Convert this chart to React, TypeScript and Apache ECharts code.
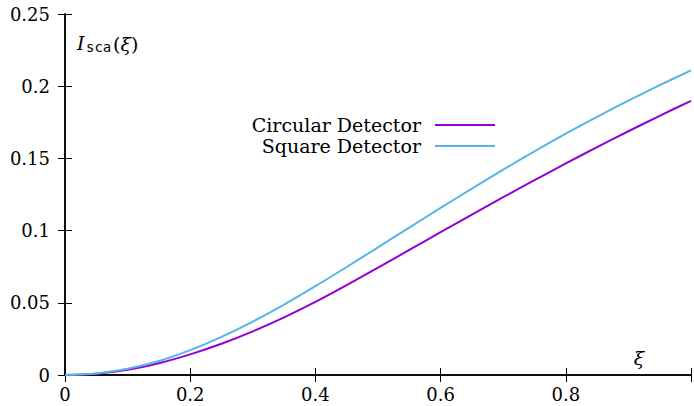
import React, { useEffect, useRef } from "react";
import * as echarts from "echarts";

const xi = [0, 0.05, 0.1, 0.15, 0.2, 0.25, 0.3, 0.35, 0.4, 0.45, 0.5, 0.55, 0.6, 0.65, 0.7, 0.75, 0.8, 0.85, 0.9, 0.95, 1];
const circular = [0, 0.0009, 0.0036, 0.0082, 0.0143, 0.0216, 0.0302, 0.0399, 0.0506, 0.0622, 0.0743, 0.0866, 0.0989, 0.1111, 0.1231, 0.1349, 0.1465, 0.1578, 0.1688, 0.1795, 0.1899];
const square = [0, 0.0011, 0.0043, 0.0097, 0.0172, 0.0264, 0.037, 0.0488, 0.0615, 0.0748, 0.0884, 0.1021, 0.1157, 0.1291, 0.1422, 0.1549, 0.1671, 0.1788, 0.19, 0.2007, 0.2109];
const seriesNames = ["Circular Detector", "Square Detector"];
const xTickLabels: Record<string, string> = { "0": "0", "0.2": "0.2", "0.4": "0.4", "0.6": "0.6", "0.8": "0.8" };
const yTickLabels: Record<string, string> = { "0": "0", "0.05": "0.05", "0.1": "0.1", "0.15": "0.15", "0.2": "0.2", "0.25": "0.25" };

const FONT = "DejaVu Serif";
const COLORS = ["#9400D3", "#56B4E9"];

export default function App() {
  const ref = useRef<HTMLDivElement>(null);
  useEffect(() => {
    if (!ref.current) return;
    const chart = echarts.init(ref.current, null, { renderer: "svg" });
    const axisLine = { show: true, lineStyle: { color: "#000", width: 1.5 } };
    const tick = { show: true, inside: true, length: 7, lineStyle: { color: "#000", width: 1 } };
    const lbl = { color: "#000", fontFamily: FONT, fontSize: 18 };
    chart.setOption({
      animation: false,
      backgroundColor: "#fff",
      grid: { left: 65, top: 14, width: 630, height: 361, containLabel: false },
      xAxis: [
        {
          type: "value", min: 0, max: 1, interval: 0.2, position: "bottom",
          axisLine, axisTick: tick, splitLine: { show: false },
          axisLabel: { ...lbl, margin: 10, formatter: (v: number) => xTickLabels[String(+v.toFixed(2))] ?? "" },
        },
        {
          type: "value", min: 0, max: 1, interval: 0.2, position: "top",
          axisLine, axisTick: tick, splitLine: { show: false }, axisLabel: { show: false },
        },
      ],
      yAxis: [
        {
          type: "value", min: 0, max: 0.25, interval: 0.05, position: "left",
          axisLine, axisTick: tick, splitLine: { show: false },
          axisLabel: { ...lbl, margin: 15, formatter: (v: number) => yTickLabels[String(+v.toFixed(2))] ?? "" },
        },
        {
          type: "value", min: 0, max: 0.25, interval: 0.05, position: "right",
          axisLine, axisTick: tick, splitLine: { show: false }, axisLabel: { show: false },
        },
      ],
      series: [
        {
          name: seriesNames[0], type: "line", showSymbol: false, smooth: 0.3,
          data: xi.map((x, i) => [x, circular[i]]),
          lineStyle: { color: COLORS[0], width: 2 }, itemStyle: { color: COLORS[0] },
        },
        {
          name: seriesNames[1], type: "line", showSymbol: false, smooth: 0.3,
          data: xi.map((x, i) => [x, square[i]]),
          lineStyle: { color: COLORS[1], width: 2 }, itemStyle: { color: COLORS[1] },
        },
      ],
      graphic: [
        { type: "text", x: 77, y: 43, style: { text: "I", fontFamily: FONT, fontSize: 19, fontStyle: "italic", fill: "#000", textVerticalAlign: "middle" } },
        { type: "text", x: 86, y: 47, style: { text: "sca", fontFamily: "DejaVu Sans Mono", fontSize: 14, fill: "#000", textVerticalAlign: "middle" } },
        {
          type: "text", x: 113, y: 44,
          style: {
            text: "{n|(}{i|ξ}{n|)}", fill: "#000", textVerticalAlign: "middle",
            rich: {
              n: { fontFamily: FONT, fontSize: 19, fill: "#000" },
              i: { fontFamily: FONT, fontSize: 19, fontStyle: "italic", fill: "#000" },
            },
          },
        },
        { type: "text", x: 639, y: 358, style: { text: "ξ", fontFamily: FONT, fontSize: 19, fontStyle: "italic", fill: "#000", textAlign: "center", textVerticalAlign: "middle" } },
        { type: "text", x: 421, y: 125, style: { text: seriesNames[0], fontFamily: FONT, fontSize: 19, fill: "#000", textAlign: "right", textVerticalAlign: "middle" } },
        { type: "line", shape: { x1: 435, y1: 125, x2: 495, y2: 125 }, style: { stroke: COLORS[0], lineWidth: 2 } },
        { type: "text", x: 421, y: 146, style: { text: seriesNames[1], fontFamily: FONT, fontSize: 19, fill: "#000", textAlign: "right", textVerticalAlign: "middle" } },
        { type: "line", shape: { x1: 435, y1: 146, x2: 495, y2: 146 }, style: { stroke: COLORS[1], lineWidth: 2 } },
      ],
    });
    return () => chart.dispose();
  }, []);
  return <div ref={ref} style={{ position: "fixed", left: 0, top: 0, width: 694, height: 406 }} />;
}
